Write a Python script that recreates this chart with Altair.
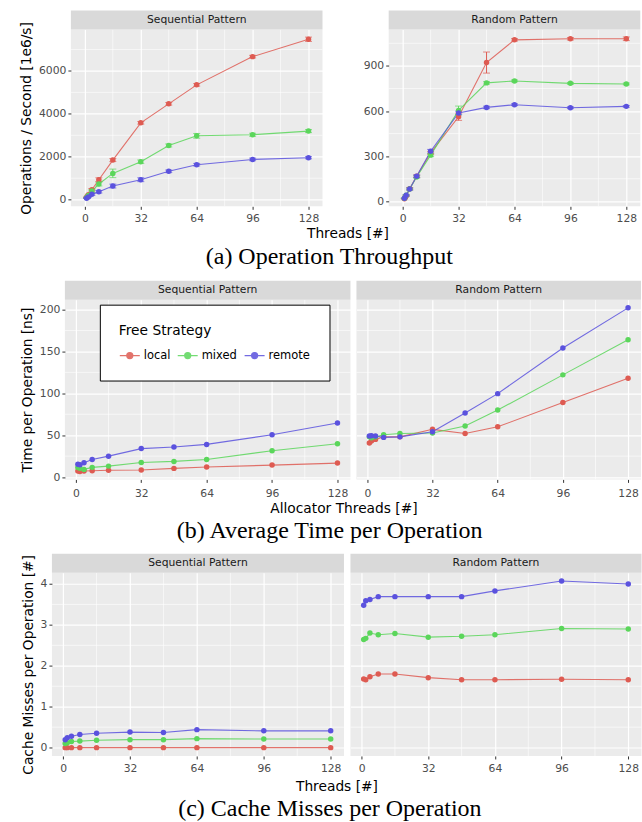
import altair as alt
import pandas as pd

# ---------------- data ----------------
threads = [1, 2, 4, 8, 16, 32, 48, 64, 96, 128]
strategies = ["local", "mixed", "remote"]
colors = ["#DE5B52", "#5BD65B", "#5B52DE"]
patterns = ["Sequential Pattern", "Random Pattern"]

x_major = [0, 32, 64, 96, 128]
x_minor = [16, 48, 80, 112]

# (a) throughput [1e6/s] with error (+/-)
tput_seq_local = [115, 230, 460, 930, 1845, 3580, 4465, 5350, 6665, 7475]
tput_seq_mixed = [95, 190, 400, 730, 1225, 1770, 2525, 2975, 3025, 3195]
tput_seq_remote = [66, 130, 250, 370, 635, 930, 1320, 1630, 1875, 1955]
tput_seq_local_err = [15, 25, 60, 90, 70, 60, 60, 60, 60, 100]
tput_seq_mixed_err = [15, 25, 60, 90, 200, 80, 70, 110, 70, 70]
tput_seq_remote_err = [10, 20, 50, 60, 90, 90, 60, 60, 60, 50]

tput_rnd_local = [18, 36, 84, 167, 322, 562, 922, 1073, 1080, 1080]
tput_rnd_mixed = [20, 40, 82, 162, 307, 604, 787, 800, 784, 780]
tput_rnd_remote = [20, 40, 82, 167, 333, 587, 624, 642, 622, 631]
tput_rnd_local_err = [2, 4, 8, 8, 10, 24, 70, 8, 8, 12]
tput_rnd_mixed_err = [2, 4, 6, 8, 10, 29, 8, 6, 6, 6]
tput_rnd_remote_err = [2, 4, 6, 8, 12, 12, 8, 6, 6, 6]

# (b) time per operation [ns]
time_seq_local = [7.2, 6.6, 7.2, 7.5, 8.2, 8.5, 10.4, 12.0, 14.3, 16.7]
time_seq_mixed = [11.5, 10.5, 9.2, 11.6, 13.1, 17.5, 18.7, 21.0, 31.5, 39.8]
time_seq_remote = [15.2, 14.8, 17.0, 21.0, 25.0, 34.0, 36.0, 39.0, 50.6, 64.5]
time_rnd_local = [40.6, 43.0, 45.0, 48.0, 48.0, 57.0, 52.0, 60.0, 89.0, 118.0]
time_rnd_mixed = [48.0, 47.0, 48.0, 50.6, 52.0, 52.6, 61.0, 80.0, 122.0, 164.0]
time_rnd_remote = [49.0, 49.4, 49.0, 47.4, 48.0, 54.0, 76.5, 99.6, 154.0, 202.0]

# (c) cache misses per operation [#]
miss_seq_local = [0.0, 0.0, 0.0, 0.0, 0.0, 0.0, 0.0, 0.0, 0.0, 0.0]
miss_seq_mixed = [0.10, 0.12, 0.15, 0.16, 0.18, 0.195, 0.195, 0.22, 0.21, 0.21]
miss_seq_remote = [0.19, 0.24, 0.28, 0.32, 0.35, 0.38, 0.37, 0.44, 0.41, 0.41]
miss_rnd_local = [1.68, 1.66, 1.73, 1.80, 1.80, 1.71, 1.66, 1.66, 1.67, 1.66]
miss_rnd_mixed = [2.64, 2.67, 2.80, 2.76, 2.79, 2.70, 2.72, 2.76, 2.91, 2.90]
miss_rnd_remote = [3.48, 3.59, 3.62, 3.69, 3.69, 3.69, 3.69, 3.83, 4.07, 4.00]

captions = ["(a) Operation Throughput", "(b) Average Time per Operation",
            "(c) Cache Misses per Operation"]
x_titles = ["Threads [#]", "Allocator Threads [#]", "Threads [#]"]
y_titles = ["Operations / Second [1e6/s]", "Time per Operation [ns]",
            "Cache Misses per Operation [#]"]

# ---------------- helpers ----------------
FONT = "DejaVu Sans"
STRIP_H = 19


def long_df(series, errors=None):
    rows = []
    for strat, vals in zip(strategies, series):
        for i, t in enumerate(threads):
            r = {"threads": t, "strategy": strat, "value": vals[i]}
            if errors is not None:
                e = errors[strategies.index(strat)][i]
                r["lo"] = vals[i] - e
                r["hi"] = vals[i] + e
            rows.append(r)
    return pd.DataFrame(rows)


def panel(df, strip, width, height, xdom, ydom, yticks, yminor,
          ytitle=None, show_y=True, yfmt=None, xtitle=None, xtitle_x=None,
          xlabel_pad=3, xtitle_pad=4, err=False, legend=False):
    xs = alt.Scale(domain=xdom, nice=False, zero=False)
    ys = alt.Scale(domain=ydom, nice=False, zero=False)
    cs = alt.Scale(domain=strategies, range=colors)

    if xtitle is not None:
        xaxis = alt.Axis(values=x_major, title=xtitle, titleX=xtitle_x,
                         titlePadding=xtitle_pad, labelPadding=xlabel_pad)
    else:
        xaxis = alt.Axis(values=x_major, title=None, labelPadding=xlabel_pad)
    if show_y:
        kw = {"format": yfmt} if yfmt else {}
        yaxis = alt.Axis(values=yticks, title=ytitle, **kw)
    else:
        yaxis = alt.Axis(values=yticks, title=None, labels=False, ticks=False)

    if legend:
        leg = alt.Legend(
            title="Free Strategy", orient="none", legendX=35, legendY=5,
            direction="horizontal", fillColor="white", strokeColor="black",
            padding=19, cornerRadius=0,
            titleFont=FONT, titleFontSize=13.8, titleFontWeight="normal",
            titleColor="black", titlePadding=7,
            labelFont=FONT, labelFontSize=11.5, labelColor="black",
            symbolType="M-1,0H1M-0.3,0A0.3,0.3 0 1,1 0.3,0A0.3,0.3 0 1,1 -0.3,0Z",
            symbolSize=400, symbolStrokeWidth=1.3, labelOffset=3, columnPadding=4)
    else:
        leg = None

    def X(f):
        return alt.X(f, scale=xs, axis=xaxis)

    def Y(f):
        return alt.Y(f, scale=ys, axis=yaxis)

    def C():
        return alt.Color("strategy:N", scale=cs, legend=leg)

    grid_x = alt.Chart(pd.DataFrame({"v": x_minor})).mark_rule(
        color="white", strokeWidth=0.6).encode(x=X("v:Q"))
    grid_y = alt.Chart(pd.DataFrame({"v": yminor})).mark_rule(
        color="white", strokeWidth=0.6).encode(y=Y("v:Q"))

    base = alt.Chart(df)
    layers = [grid_x, grid_y]
    if err:
        layers.append(base.mark_rule(strokeWidth=1).encode(
            x=X("threads:Q"), y=Y("lo:Q"), y2="hi:Q", color=C()))
        for f in ["lo", "hi"]:
            layers.append(base.mark_tick(orient="horizontal", size=7, thickness=1).encode(
                x=X("threads:Q"), y=Y(f + ":Q"), color=C()))
    layers.append(base.mark_line(strokeWidth=1.1, opacity=0.85).encode(
        x=X("threads:Q"), y=Y("value:Q"), color=C(), detail="strategy:N"))
    layers.append(base.mark_point(filled=True, size=30, opacity=1).encode(
        x=X("threads:Q"), y=Y("value:Q"), color=C()))

    sdf = pd.DataFrame({"label": [strip]})
    layers.append(alt.Chart(sdf).mark_rect(color="#D9D9D9").encode(
        x=alt.value(0), x2=alt.value(width), y=alt.value(-STRIP_H), y2=alt.value(0)))
    layers.append(alt.Chart(sdf).mark_text(font=FONT, fontSize=10.8, color="#1A1A1A").encode(
        x=alt.value(width / 2), y=alt.value(-STRIP_H / 2), text="label:N"))

    return alt.layer(*layers).properties(width=width, height=height)


def make_row(left, right, plot_left, spacing, caption, dx, offset):
    inner = alt.hconcat(left, right, spacing=spacing, bounds="flush").resolve_scale(
        color="independent")
    spacer = alt.Chart(pd.DataFrame({"s": [0]})).mark_point(opacity=0).properties(
        width=plot_left, height=1,
        view=alt.ViewBackground(fillOpacity=0, strokeOpacity=0))
    return alt.hconcat(spacer, inner, spacing=0, bounds="flush").resolve_scale(
        color="independent"
    ).properties(title=alt.TitleParams(
        text=caption, orient="bottom", anchor="middle", font="Liberation Serif",
        fontSize=24, fontWeight="normal", color="black", dx=dx, offset=offset))


# ---------------- row (a) ----------------
dfa_s = long_df([tput_seq_local, tput_seq_mixed, tput_seq_remote],
                [tput_seq_local_err, tput_seq_mixed_err, tput_seq_remote_err])
dfa_r = long_df([tput_rnd_local, tput_rnd_mixed, tput_rnd_remote],
                [tput_rnd_local_err, tput_rnd_mixed_err, tput_rnd_remote_err])
a_left = panel(dfa_s, patterns[0], 252, 177, [-8, 136], [-310, 7925],
               [0, 2000, 4000, 6000], [1000, 3000, 5000, 7000],
               ytitle=y_titles[0], yfmt="d", xtitle=x_titles[0], xtitle_x=277,
               xlabel_pad=3, xtitle_pad=3.5, err=True)
a_right = panel(dfa_r, patterns[1], 252, 177, [-8, 136], [-33, 1141],
                [0, 300, 600, 900], [150, 450, 750, 1050], yfmt="d",
                xlabel_pad=3, err=True)
row_a = make_row(a_left, a_right, 71, 66.3, captions[0], 9, 5)

# ---------------- row (b) ----------------
dfb_s = long_df([time_seq_local, time_seq_mixed, time_seq_remote])
dfb_r = long_df([time_rnd_local, time_rnd_mixed, time_rnd_remote])
b_left = panel(dfb_s, patterns[0], 286, 180, [-5.35, 134.35], [-2.75, 211.75],
               [0, 50, 100, 150, 200], [25, 75, 125, 175],
               ytitle=y_titles[1], xtitle=x_titles[1], xtitle_x=279,
               xlabel_pad=5, xtitle_pad=3.6, legend=True)
b_right = panel(dfb_r, patterns[1], 285, 180, [-5.35, 134.35], [-2.75, 211.75],
                [0, 50, 100, 150, 200], [25, 75, 125, 175], show_y=False,
                xlabel_pad=5)
row_b = make_row(b_left, b_right, 65, 6, captions[1], 9, 3.5)

# ---------------- row (c) ----------------
dfc_s = long_df([miss_seq_local, miss_seq_mixed, miss_seq_remote])
dfc_r = long_df([miss_rnd_local, miss_rnd_mixed, miss_rnd_remote])
c_left = panel(dfc_s, patterns[0], 292.5, 183.5, [-5.35, 134.35], [-0.2035, 4.2735],
               [0, 1, 2, 3, 4], [0.5, 1.5, 2.5, 3.5],
               ytitle=y_titles[2], xtitle=x_titles[2], xtitle_x=285,
               xlabel_pad=3.6, xtitle_pad=6)
c_right = panel(dfc_r, patterns[1], 291.5, 183.5, [-5.35, 134.35], [-0.2035, 4.2735],
                [0, 1, 2, 3, 4], [0.5, 1.5, 2.5, 3.5], show_y=False,
                xlabel_pad=3.6)
row_c = make_row(c_left, c_right, 51.7, 6, captions[2], 9, 3.5)

chart = alt.concat(row_a, row_b, row_c, columns=1, spacing=10.5).resolve_scale(
    color="independent"
).properties(
    padding={"left": 0, "top": 10, "right": 0, "bottom": 0},
    background="white"
).configure_view(
    fill="#EBEBEB", stroke=None
).configure_axis(
    labelFont=FONT, labelFontSize=10.8, labelColor="#4D4D4D", labelPadding=2,
    labelFlush=False, tickColor="#333333", tickSize=3, domain=False,
    gridColor="white", gridWidth=1.2,
    titleFont=FONT, titleFontSize=13.8, titleFontWeight="normal", titleColor="black",
    titlePadding=5
)

chart.save("out.html", embed_options={"renderer": "svg", "actions": False})
